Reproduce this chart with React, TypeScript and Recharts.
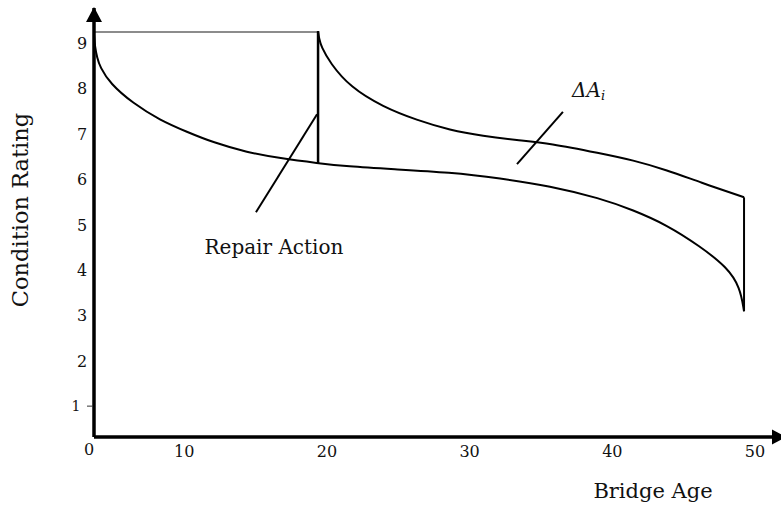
import React from 'react';
import { LineChart, Line, XAxis, YAxis, ReferenceDot } from 'recharts';

// Axis extents (schematic bridge age / condition rating)
const X_MIN = 3.68;
const X_MAX = 51.82;
const Y_MIN = 0.32;
const Y_MAX = 9.77;

const X_TICKS = [X_MIN, 10, 20, 30, 40, 50];
const X_TICK_LABELS = ['0', '10', '20', '30', '40', '50'];
const Y_TICKS = [1, 2, 3, 4, 5, 6, 7, 8, 9];

// Deterioration curve without repair
const AGE_LOWER = [3.68, 3.75, 3.9, 4.1, 4.8, 6.41, 8.3, 10.2, 12.02, 14.4, 16.71, 19.38, 21.4, 24.63, 28.62, 32.13, 35.63, 39.14, 41.45, 43.83, 46.15, 48.04, 48.95, 49.23];
const RATING_LOWER = [9.19, 8.9, 8.68, 8.47, 8.11, 7.67, 7.3, 7.04, 6.81, 6.59, 6.46, 6.35, 6.28, 6.22, 6.15, 6.02, 5.85, 5.58, 5.32, 4.99, 4.52, 4.06, 3.62, 3.09];

// Deterioration curve after repair
const AGE_UPPER = [19.38, 19.45, 19.6, 20.22, 21.62, 23.93, 26.31, 28.62, 30.94, 33.32, 35.63, 39.14, 41.45, 43.83, 46.15, 49.23];
const RATING_UPPER = [9.26, 9.1, 8.92, 8.56, 8.03, 7.59, 7.3, 7.08, 6.95, 6.86, 6.79, 6.57, 6.42, 6.2, 5.93, 5.6];

// Straight segments
const INITIAL_RATING = 9.24;
const REPAIR_AGE = 19.38;
const END_AGE = 49.23;
const REPAIR_FROM = 6.35;
const REPAIR_TO = 9.26;
const END_LOW = 3.09;
const END_HIGH = 5.6;

// Annotation leaders
const REPAIR_LEADER_X = [15.03, 19.31];
const REPAIR_LEADER_Y = [5.27, 7.43];
const DELTA_LEADER_X = [33.32, 36.54];
const DELTA_LEADER_Y = [6.33, 7.48];

// Annotation anchors
const REPAIR_TEXT_POS = { x: 16.29, y: 4.35 };
const DELTA_TEXT_POS = { x: 37.18, y: 7.81 };

const zip = (xs: number[], ys: number[]) => xs.map((x, i) => ({ x, y: ys[i] }));

const lowerData = zip(AGE_LOWER, RATING_LOWER);
const upperData = zip(AGE_UPPER, RATING_UPPER);
const horizData = zip([X_MIN, REPAIR_AGE], [INITIAL_RATING, INITIAL_RATING]);
const repairVert = zip([REPAIR_AGE, REPAIR_AGE], [REPAIR_FROM, REPAIR_TO]);
const endVert = zip([END_AGE, END_AGE], [END_LOW, END_HIGH]);
const repairLeader = zip(REPAIR_LEADER_X, REPAIR_LEADER_Y);
const deltaLeader = zip(DELTA_LEADER_X, DELTA_LEADER_Y);

const FONT = '"DejaVu Serif", "Liberation Serif", serif';

const XTick = (p: any) => {
  const i = X_TICKS.indexOf(p.payload.value);
  const label = X_TICK_LABELS[i] ?? String(p.payload.value);
  const first = i === 0;
  return (
    <text x={p.x + (first ? -5 : 0)} y={p.y + (first ? 18 : 20)} textAnchor="middle" fontFamily={FONT} fontSize={16} fill="#111">
      {label}
    </text>
  );
};

const YTick = (p: any) => {
  const v = p.payload.value;
  if (v === 1) {
    return (
      <g>
        <line x1={p.x - 7} x2={p.x - 1} y1={p.y} y2={p.y} stroke="#333" strokeWidth={1} />
        <text x={p.x - 18} y={p.y + 5} textAnchor="middle" fontFamily={FONT} fontSize={14} fill="#111">
          {v}
        </text>
      </g>
    );
  }
  return (
    <text x={p.x - 12} y={p.y + 6} textAnchor="middle" fontFamily={FONT} fontSize={16} fill="#111">
      {v}
    </text>
  );
};

const UpArrow = (p: any) => (
  <polygon points={`${p.cx},${p.cy - 1} ${p.cx - 8},${p.cy + 14} ${p.cx + 8},${p.cy + 14}`} fill="#000" />
);
const RightArrow = (p: any) => (
  <polygon points={`${p.cx - 9},${p.cy - 7.5} ${p.cx + 5},${p.cy} ${p.cx - 9},${p.cy + 7.5}`} fill="#000" />
);

const RepairText = (p: any) => (
  <text x={p.cx} y={p.cy} textAnchor="middle" fontFamily={FONT} fontSize={20} fill="#111">
    Repair Action
  </text>
);
const DeltaText = (p: any) => (
  <text x={p.cx} y={p.cy} textAnchor="start" fontFamily={FONT} fontSize={20} fontStyle="italic" fill="#111">
    ΔA
    <tspan fontSize={13} dy={3}>i</tspan>
  </text>
);

const XTitle = (props: any) => {
  const vb = props.viewBox || { x: 94, y: 437 };
  return (
    <text x={vb.x + 559} y={vb.y + 61} textAnchor="middle" fontFamily={FONT} fontSize={21} fill="#111">
      Bridge Age
    </text>
  );
};

const YTitle = (props: any) => {
  const vb = props.viewBox || { x: 93, y: 8, width: 1, height: 429 };
  const cx = vb.x + (vb.width || 0) - 66.5;
  const cy = vb.y + vb.height / 2 - 12.5;
  return (
    <text x={cx} y={cy} transform={`rotate(-90, ${cx}, ${cy})`} textAnchor="middle" fontFamily={FONT} fontSize={22.5} fill="#111">
      Condition Rating
    </text>
  );
};

export default function App() {
  return (
    <div style={{ position: 'absolute', left: 0, top: 0, width: 781, height: 508, background: '#fff' }}>
      <LineChart width={781} height={508} margin={{ top: 8, right: 0, bottom: 70, left: 93 }}>
        <XAxis
          type="number"
          dataKey="x"
          domain={[X_MIN, X_MAX]}
          ticks={X_TICKS}
          allowDataOverflow
          height={1}
          tickSize={0}
          tickMargin={0}
          tickLine={false}
          tick={<XTick />}
          axisLine={{ stroke: '#000', strokeWidth: 3.5 }}
          label={<XTitle />}
        />
        <YAxis
          type="number"
          dataKey="y"
          domain={[Y_MIN, Y_MAX]}
          ticks={Y_TICKS}
          allowDataOverflow
          width={1}
          tickSize={0}
          tickMargin={0}
          tickLine={false}
          tick={<YTick />}
          axisLine={{ stroke: '#000', strokeWidth: 3.5 }}
          label={<YTitle />}
        />

        <Line data={horizData} dataKey="y" type="linear" stroke="#666" strokeWidth={1.5} dot={false} activeDot={false} isAnimationActive={false} />
        <Line data={lowerData} dataKey="y" type="basis" stroke="#000" strokeWidth={2} dot={false} activeDot={false} isAnimationActive={false} />
        <Line data={upperData} dataKey="y" type="basis" stroke="#000" strokeWidth={2} dot={false} activeDot={false} isAnimationActive={false} />
        <Line data={repairVert} dataKey="y" type="linear" stroke="#000" strokeWidth={2.5} dot={false} activeDot={false} isAnimationActive={false} />
        <Line data={endVert} dataKey="y" type="linear" stroke="#000" strokeWidth={2} dot={false} activeDot={false} isAnimationActive={false} />
        <Line data={repairLeader} dataKey="y" type="linear" stroke="#000" strokeWidth={2} dot={false} activeDot={false} isAnimationActive={false} />
        <Line data={deltaLeader} dataKey="y" type="linear" stroke="#000" strokeWidth={2} dot={false} activeDot={false} isAnimationActive={false} />

        <ReferenceDot x={X_MIN} y={Y_MAX} ifOverflow="visible" shape={UpArrow} />
        <ReferenceDot x={X_MAX} y={Y_MIN} ifOverflow="visible" shape={RightArrow} />
        <ReferenceDot x={REPAIR_TEXT_POS.x} y={REPAIR_TEXT_POS.y} ifOverflow="visible" shape={RepairText} />
        <ReferenceDot x={DELTA_TEXT_POS.x} y={DELTA_TEXT_POS.y} ifOverflow="visible" shape={DeltaText} />
      </LineChart>
    </div>
  );
}
